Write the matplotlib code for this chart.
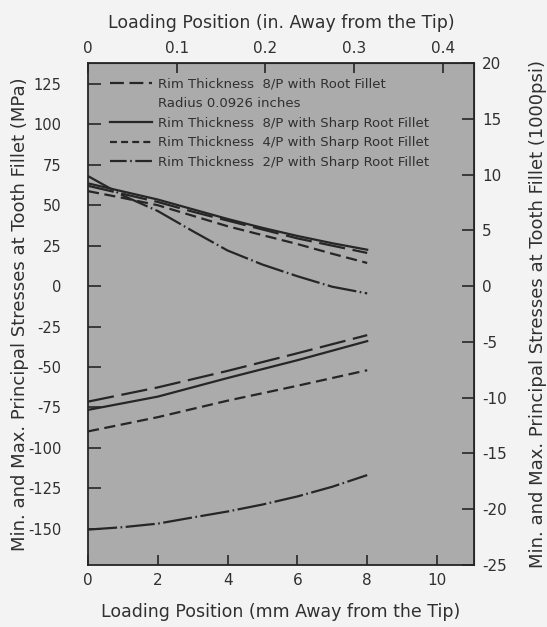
import matplotlib
matplotlib.use("Agg")
import matplotlib.pyplot as plt
from matplotlib.lines import Line2D
import numpy as np

# ---------------- data ----------------
MPA_PER_KSI = 6.895

x_fine = [0, 1, 2, 3, 4, 5, 6, 7, 8]          # mm away from tip
x_coarse = [0, 2, 4, 6, 8]

# maximum (tensile) principal stresses, MPa
max_root_8p = [62, 57, 52, 46, 40.5, 35, 29.5, 25, 20.5]
max_sharp_8p = [63.5, 58.5, 53.5, 47.5, 41.5, 36, 31, 26.5, 22.5]
max_sharp_4p = [58.7, 54.5, 50, 43.5, 37, 31.5, 26, 20, 14.3]
max_sharp_2p = [68, 56, 46.4, 34, 22, 13.3, 6.1, -0.4, -4.5]

# minimum (compressive) principal stresses, MPa
min_root_8p = [-71.4, -62.6, -52.4, -41.5, -30.3]
min_sharp_8p = [-76.5, -68.3, -56.8, -45.8, -34]
min_sharp_4p = [-89.8, -81, -70.8, -61.6, -52]
min_sharp_2p = [-150.5, -149, -146.8, -143, -139.3, -135, -130, -124, -116.8]

legend_labels = [
    "Rim Thickness  8/P with Root Fillet",
    "Radius 0.0926 inches",
    "Rim Thickness  8/P with Sharp Root Fillet",
    "Rim Thickness  4/P with Sharp Root Fillet",
    "Rim Thickness  2/P with Sharp Root Fillet",
]

left_ticks = [-150, -125, -100, -75, -50, -25, 0, 25, 50, 75, 100, 125]
right_ticks = [-25, -20, -15, -10, -5, 0, 5, 10, 15, 20]
bottom_ticks = [0, 2, 4, 6, 8, 10]
top_ticks = [0, 0.1, 0.2, 0.3, 0.4]
top_labels = ["0", "0.1", "0.2", "0.3", "0.4"]

# ---------------- style ----------------
plt.rcParams['font.family'] = ['DejaVu Sans']
plt.rcParams['axes.unicode_minus'] = False
plt.rcParams['lines.scale_dashes'] = False

LINE = '#262626'
TEXT = '#303030'
AX_BG = '#ababab'
FIG_BG = '#f3f3f3'
LW = 1.6

LONG = (0, (19, 5.5))
SOLID = '-'
SHORT = (0, (8, 4))
DASHDOT = (0, (21, 2.5, 1.2, 2.5))

fig = plt.figure(figsize=(5.47, 6.27), dpi=100, facecolor=FIG_BG)
ax = fig.add_axes([88/547, 1-565/627, (474-88)/547, (565-63)/627])
ax.set_facecolor(AX_BG)

ax.plot(x_fine, max_root_8p, color=LINE, lw=LW, ls=LONG)
ax.plot(x_fine, max_sharp_8p, color=LINE, lw=LW, ls=SOLID)
ax.plot(x_fine, max_sharp_4p, color=LINE, lw=LW, ls=SHORT)
ax.plot(x_fine, max_sharp_2p, color=LINE, lw=LW, ls=DASHDOT)

ax.plot(x_coarse, min_root_8p, color=LINE, lw=LW, ls=LONG)
ax.plot(x_coarse, min_sharp_8p, color=LINE, lw=LW, ls=SOLID)
ax.plot(x_coarse, min_sharp_4p, color=LINE, lw=LW, ls=SHORT)
ax.plot(x_fine, min_sharp_2p, color=LINE, lw=LW, ls=DASHDOT)

ax.set_xlim(0, 11.06)
ax.set_ylim(-25 * MPA_PER_KSI, 20 * MPA_PER_KSI)

for s in ax.spines.values():
    s.set_color(LINE)
    s.set_linewidth(1.3)

ax.set_xticks(bottom_ticks)
ax.set_yticks(left_ticks)
ax.tick_params(axis='x', direction='in', length=7, width=1.2, color=LINE,
               labelsize=11, labelcolor=TEXT, pad=6)
ax.tick_params(axis='y', direction='in', length=9, width=1.2, color=LINE,
               labelsize=10.5, labelcolor=TEXT, pad=19)

# top axis in inches
secx = ax.secondary_xaxis('top', functions=(lambda m: m / 25.4, lambda i: i * 25.4))
secx.set_xticks(top_ticks)
secx.set_xticklabels(top_labels)
secx.tick_params(direction='in', length=7, width=1.2, color=LINE,
                 labelsize=11, labelcolor=TEXT, pad=5)
secx.spines['top'].set_color(LINE)

# right axis in 1000 psi
secy = ax.secondary_yaxis('right', functions=(lambda m: m / MPA_PER_KSI,
                                              lambda k: k * MPA_PER_KSI))
secy.set_yticks(right_ticks)
secy.tick_params(direction='in', length=9, width=1.2, color=LINE,
                 labelsize=11, labelcolor=TEXT, pad=6)
secy.spines['right'].set_color(LINE)

ax.set_xlabel("Loading Position (mm Away from the Tip)", fontsize=12.5, color=TEXT)
ax.xaxis.set_label_coords(0.5, -0.075)
ax.set_ylabel("Min. and Max. Principal Stresses at Tooth Fillet (MPa)", fontsize=13, color=TEXT)
ax.yaxis.set_label_coords(-0.152, 0.5)
secx.set_xlabel("Loading Position (in. Away from the Tip)", fontsize=12.5, color=TEXT)
secx.xaxis.set_label_coords(0.5, 1.07, transform=ax.transAxes)
secy.set_ylabel("Min. and Max. Principal Stresses at Tooth Fillet (1000psi)", fontsize=13, color=TEXT)
secy.yaxis.set_label_coords(1.143, 0.5, transform=ax.transAxes)

handles = [
    Line2D([], [], color=LINE, lw=LW, ls=(0, (10, 4))),
    Line2D([], [], color='none'),
    Line2D([], [], color=LINE, lw=LW, ls=SOLID),
    Line2D([], [], color=LINE, lw=LW, ls=(0, (5, 3))),
    Line2D([], [], color=LINE, lw=LW, ls=(0, (12, 2.5, 1.2, 2.5))),
]
leg = ax.legend(handles, legend_labels, loc='upper left',
                bbox_to_anchor=(0.057, 0.971), frameon=False, fontsize=9.5,
                handlelength=3.2, handletextpad=0.45, labelspacing=0.5,
                borderpad=0, borderaxespad=0)
for t in leg.get_texts():
    t.set_color(TEXT)

fig.savefig("out.png", dpi=100, facecolor=FIG_BG)
